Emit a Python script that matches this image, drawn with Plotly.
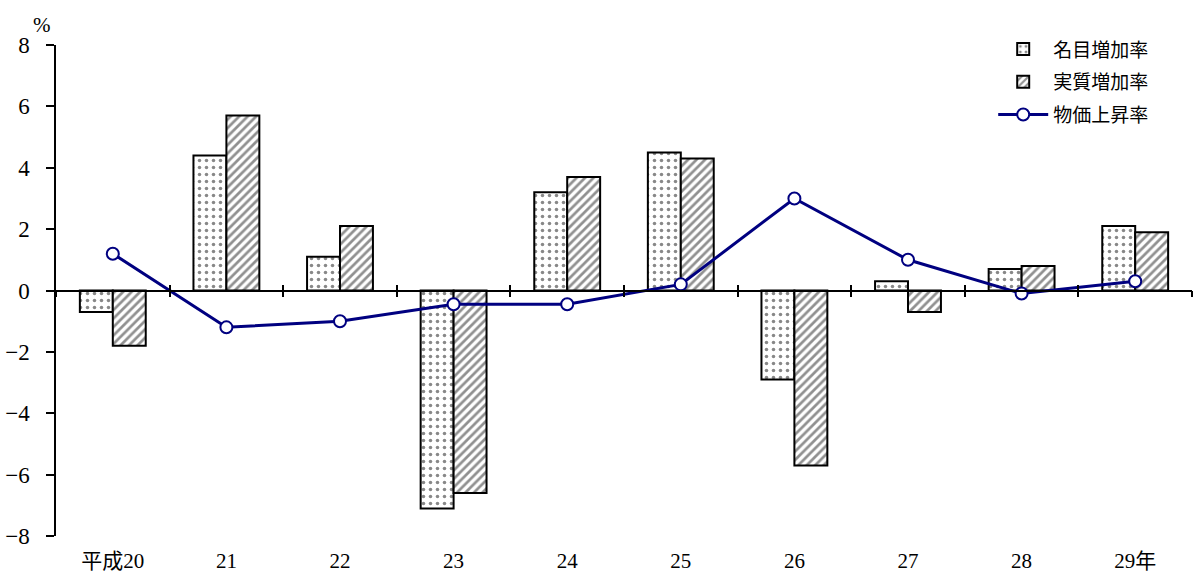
import plotly.graph_objects as go

categories = ["平成20", "21", "22", "23", "24", "25", "26", "27", "28", "29年"]
nominal = [-0.7, 4.4, 1.1, -7.1, 3.2, 4.5, -2.9, 0.3, 0.7, 2.1]
real = [-1.8, 5.7, 2.1, -6.6, 3.7, 4.3, -5.7, -0.7, 0.8, 1.9]
prices = [1.2, -1.2, -1.0, -0.45, -0.45, 0.2, 3.0, 1.0, -0.1, 0.3]
y_ticks = [-8, -6, -4, -2, 0, 2, 4, 6, 8]
boundaries = [i - 0.5 for i in range(len(categories) + 1)]

FONT = "Liberation Serif, Noto Sans CJK JP, serif"

fig = go.Figure()
fig.add_trace(go.Bar(
    x=categories, y=nominal, name="名目増加率", legendgroup="a",
    marker=dict(color="white", line=dict(color="black", width=2),
                pattern=dict(shape=".", fgcolor="#111", bgcolor="white", size=7, solidity=0.2)),
))
fig.add_trace(go.Bar(
    x=categories, y=real, name="実質増加率", legendgroup="b",
    marker=dict(color="white", line=dict(color="black", width=2),
                pattern=dict(shape="/", fgcolor="#222", bgcolor="white", size=6, solidity=0.45)),
))
fig.add_trace(go.Scatter(
    x=categories, y=prices, name="物価上昇率", mode="lines+markers", legendgroup="c",
    line=dict(color="#000080", width=3),
    marker=dict(size=12, color="white", line=dict(color="#000080", width=2)),
))
# helper traces so the boundary-tick axes are rendered (invisible)
for ax in ("x2", "x3"):
    fig.add_trace(go.Scatter(x=boundaries, y=[0] * len(boundaries), xaxis=ax, mode="markers",
                             marker=dict(opacity=0), showlegend=False, hoverinfo="skip"))

fig.update_layout(
    width=1194, height=575,
    margin=dict(l=56, r=2, t=45, b=39),
    paper_bgcolor="white", plot_bgcolor="white",
    barmode="group", bargap=0.42, bargroupgap=0,
    font=dict(family=FONT, size=20, color="black"),
    showlegend=True,
    legend=dict(x=0.825, y=1.03, xanchor="left", yanchor="top",
                bgcolor="rgba(0,0,0,0)", font=dict(size=19, family="Noto Sans CJK JP"),
                traceorder="grouped", tracegroupgap=5, itemwidth=50),
    xaxis=dict(range=[-0.5, 9.5], showline=False, ticks="", showgrid=False,
               zeroline=False, tickfont=dict(size=21), ticklabelstandoff=10),
    xaxis2=dict(overlaying="x", anchor="free", position=0.5, range=[-0.5, 9.5],
                tickmode="array", tickvals=boundaries, showticklabels=False,
                ticks="outside", ticklen=6, tickwidth=1.5, tickcolor="black",
                showline=True, linecolor="black", linewidth=1.5, showgrid=False, zeroline=False),
    xaxis3=dict(overlaying="x", anchor="free", position=0.5, range=[-0.5, 9.5],
                tickmode="array", tickvals=boundaries, showticklabels=False,
                ticks="inside", ticklen=6, tickwidth=1.5, tickcolor="black",
                showline=False, showgrid=False, zeroline=False),
    yaxis=dict(range=[-8, 8], tickvals=y_ticks, ticks="outside", ticklen=8, tickwidth=1.5,
               tickcolor="black", showline=True, linecolor="black", linewidth=1.5,
               showgrid=False, zeroline=False, tickfont=dict(size=23),
               ticklabelstandoff=12),
    annotations=[dict(text="%", x=0, xref="paper", xanchor="right", xshift=-3,
                      y=1, yref="paper", yanchor="bottom", yshift=6,
                      showarrow=False, font=dict(size=21, family=FONT))],
)

fig.write_html("out.html")
